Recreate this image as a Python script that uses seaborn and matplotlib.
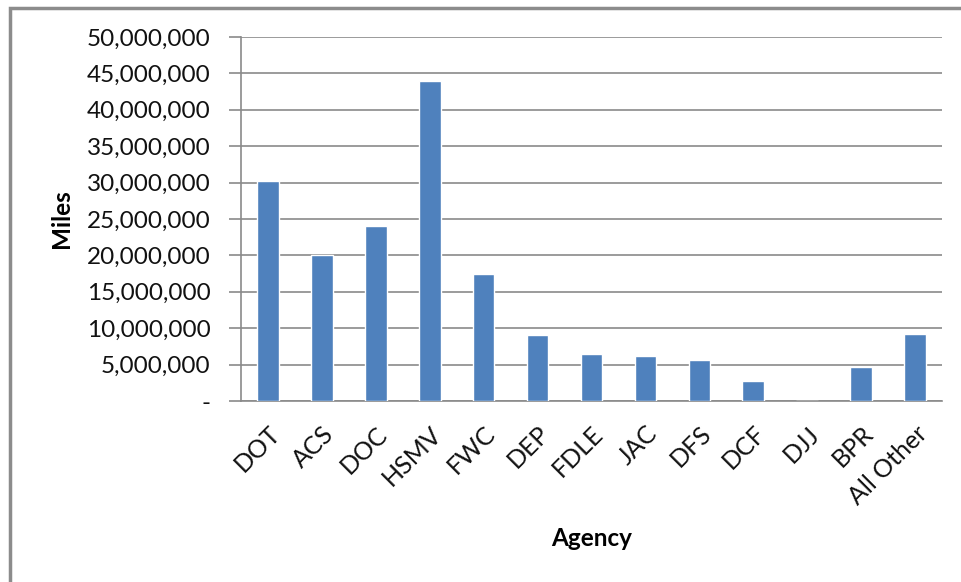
import matplotlib
matplotlib.use("Agg")
import matplotlib.pyplot as plt
from matplotlib.patches import Rectangle
from matplotlib.ticker import FuncFormatter
import pandas as pd
import seaborn as sns

agencies = ["DOT", "ACS", "DOC", "HSMV", "FWC", "DEP", "FDLE", "JAC",
            "DFS", "DCF", "DJJ", "BPR", "All Other"]
miles = [30200000, 20050000, 24100000, 43900000, 17400000, 9100000,
         6450000, 6200000, 5700000, 2800000, 0, 4700000, 9200000]
y_ticks = [0, 5000000, 10000000, 15000000, 20000000, 25000000,
           30000000, 35000000, 40000000, 45000000, 50000000]

df = pd.DataFrame({"Agency": agencies, "Miles": miles})

sns.set_theme(style="white")
plt.rcParams["font.family"] = ["Lato", "DejaVu Sans"]

fig = plt.figure(figsize=(9.61, 5.82), dpi=100)
ax = fig.add_axes([241 / 961, 1 - 401 / 582, 701 / 961, 364 / 582])

sns.barplot(data=df, x="Agency", y="Miles", color="#4F81BD", width=0.4,
            saturation=1, ax=ax, zorder=3)

grid_c = "#8a8a8a"
ax.set_ylim(0, 50000000)
ax.set_xlim(-0.5, len(agencies) - 0.5)
ax.set_yticks(y_ticks)
ax.yaxis.set_major_formatter(
    FuncFormatter(lambda v, _: "-" if v == 0 else f"{int(v):,}"))
ax.yaxis.grid(True, color=grid_c, linewidth=1.2, zorder=0)
ax.set_axisbelow(True)

for side in ("top", "right"):
    ax.spines[side].set_visible(False)
for side in ("left", "bottom"):
    ax.spines[side].set_color(grid_c)
    ax.spines[side].set_linewidth(1.2)

ax.tick_params(axis="y", which="major", left=True, length=9, width=1.2,
               color=grid_c, pad=13, labelsize=17.5, labelcolor="#111111")
ax.tick_params(axis="x", bottom=False, labelsize=18, labelcolor="#111111", pad=9)
plt.setp(ax.get_xticklabels(), rotation=45, ha="right", rotation_mode="anchor")

ax.set_xlabel("Agency", fontsize=17.5, fontweight="bold", color="black")
ax.set_ylabel("Miles", fontsize=17.5, fontweight="bold", color="black")
ax.xaxis.set_label_coords(0.5, -0.345)
ax.yaxis.set_label_coords(-0.24, 0.5)

# chart-area border
fig.patches.append(Rectangle((10 / 961, -0.1), 1.2, 1 - 8 / 582 + 0.1,
                             transform=fig.transFigure, fill=False,
                             edgecolor="#8c8c8c", linewidth=2.5, zorder=10))

fig.savefig("out.png", dpi=100)
